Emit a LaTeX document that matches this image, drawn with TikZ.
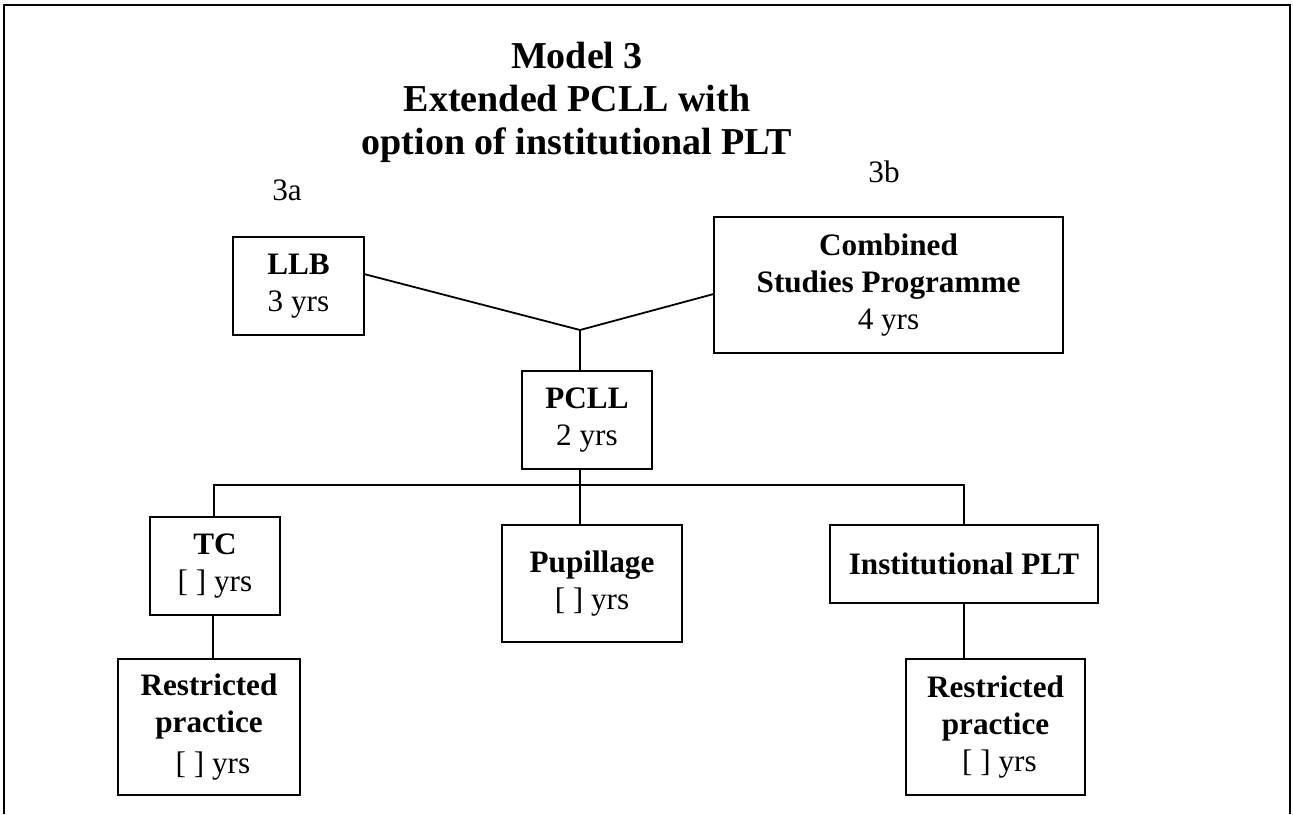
\documentclass[tikz,border=0pt]{standalone}
\usepackage{fontspec}
\setmainfont{Liberation Serif}
\begin{document}
\begin{tikzpicture}[x=0.5pt, y=-0.5pt,
		box/.style={draw, line width=1pt, inner sep=0pt, align=center, font=\fontsize{15.6}{18.5}\selectfont},
		tag/.style={font=\fontsize{15.6}{18}\selectfont},
		link/.style={line width=0.9pt}]
	\useasboundingbox (0,0) rectangle (1293,814);
	\draw[line width=1.2pt] (4,814) -- (4,5) -- (1290,5) -- (1290,814);

	\node[align=center, font=\fontsize{19}{21.5}\selectfont\bfseries] (title) at (577,102) {Model 3\\Extended PCLL with\\option of institutional PLT};
	\node[tag] (tag-a) at (287,190) {3a};
	\node[tag] (tag-b) at (884,172) {3b};

	% first degree
	\node[box, minimum width=65.5pt, minimum height=49pt] (llb) at (298.5,286) {\textbf{LLB}\\3 yrs};
	\node[box, minimum width=174.5pt, minimum height=68pt] (csp) at (888.5,285) {\textbf{Combined}\\\textbf{Studies Programme}\\4 yrs};
	\node[box, minimum width=65pt, minimum height=49pt] (pcll) at (587,420) {\textbf{PCLL}\\2 yrs};
	\coordinate (j) at (580,330);
	\coordinate (bus) at (580,485);
	\draw[link] (llb.10) -- (j) -- (csp.183);
	\draw[link] (j) -- (j |- pcll.north);

	% after the PCLL
	\node[box, minimum width=65pt, minimum height=49pt] (tc) at (215,566) {\textbf{TC}\\{[ ]} yrs};
	\node[box, minimum width=90pt, minimum height=58.5pt] (pup) at (592,583.5) {\textbf{Pupillage}\\{[ ]} yrs};
	\node[box, minimum width=134pt, minimum height=39pt] (plt) at (964,564) {\textbf{Institutional PLT}};
	\node[box, minimum width=91pt, minimum height=68pt] (rp-1) at (209,727) {\textbf{Restricted}\\\textbf{practice}\\[2pt]\ {[ ]} yrs};
	\node[box, minimum width=89.5pt, minimum height=68pt] (rp-2) at (995.5,727) {\textbf{Restricted}\\\textbf{practice}\\\ {[ ]} yrs};

	\draw[link] (tc.north -| 214,0) |- (bus) -| (plt.north);
	\draw[link] (j |- pcll.south) -- (j |- pup.north);
	\draw[link] (213,0 |- tc.south) -- (213,0 |- rp-1.north);
	\draw[link] (plt.south) -- (plt.south |- rp-2.north);
\end{tikzpicture}
\end{document}
